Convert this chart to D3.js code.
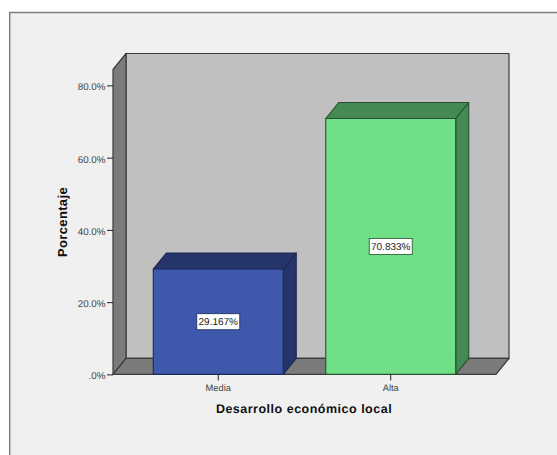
<!DOCTYPE html>
<html><head><meta charset="utf-8">
<script src="https://cdn.jsdelivr.net/npm/d3@7/dist/d3.min.js"></script>
<style>html,body{margin:0;padding:0;background:#fff}svg{display:block}text{font-family:"Liberation Sans",Arial,sans-serif;text-rendering:geometricPrecision}</style>
</head><body><svg id="c" width="557" height="455"></svg>
<script>
const categories = ["Media", "Alta"];
const values = [29.167, 70.833];
const valueLabels = ["29.167%", "70.833%"];
const yTicks = [0, 20, 40, 60, 80];
const xTitle = "Desarrollo económico local";
const yTitle = "Porcentaje";

const svg = d3.select("#c");
const dx = 13, dy = 16;
const y = d3.scaleLinear().domain([0, 80]).range([374.4, 85.4]);
const x = d3.scaleBand().domain(categories).range([113, 496]).paddingInner(0.2464).paddingOuter(0.2336);
const yTopFront = 69.5, x0 = 113, x1 = 496, y0 = y(0);
const line = "#3a3a3a";
const poly = (pts, fill, stroke, w) => svg.append("path")
  .attr("d", "M" + pts.map(p => p.join(",")).join("L") + "Z")
  .attr("fill", fill).attr("stroke", stroke).attr("stroke-width", w).attr("stroke-linejoin", "round");

svg.append("rect").attr("x", 9.7).attr("y", 12.5).attr("width", 590).attr("height", 480)
  .attr("fill", "#f0f0f0").attr("stroke", "#808080").attr("stroke-width", 1.5);

poly([[x0+dx,yTopFront-dy],[x1+dx,yTopFront-dy],[x1+dx,y0-dy],[x0+dx,y0-dy]], "#c0c0c0", line, 1.2);
poly([[x0,yTopFront],[x0+dx,yTopFront-dy],[x0+dx,y0-dy],[x0,y0]], "#7b7b7b", line, 1.2);
poly([[x0,y0],[x0+dx,y0-dy],[x1+dx,y0-dy],[x1,y0]], "#7b7b7b", line, 1.2);

const styles = [
  {front:"#3e58ac", top:"#253569", side:"#253569", stroke:"#1c2a55"},
  {front:"#70df85", top:"#458a54", side:"#458a54", stroke:"#274f30"}
];
categories.forEach((c, i) => {
  const l = x(c), r = l + x.bandwidth(), t = y(values[i]), s = styles[i];
  poly([[l,t],[l+dx,t-dy],[r+dx,t-dy],[r,t]], s.top, s.stroke, 1.1);
  poly([[r,t],[r+dx,t-dy],[r+dx,y0-dy],[r,y0]], s.side, s.stroke, 1.1);
  poly([[l,t],[r,t],[r,y0],[l,y0]], s.front, s.stroke, 1.1);
  const cx = l + x.bandwidth()/2, cy = (t + y0)/2;
  svg.append("rect").attr("x", cx-21.5).attr("y", cy-8).attr("width", 43).attr("height", 16)
    .attr("fill", "#fff").attr("stroke", s.stroke).attr("stroke-width", 0.8);
  svg.append("text").attr("x", cx).attr("y", cy+3.6).attr("text-anchor","middle")
    .attr("font-size", 10).attr("fill", "#222").text(valueLabels[i]);
});

const yAxis = d3.axisLeft(y).tickValues(yTicks).tickSize(6).tickPadding(1.5)
  .tickFormat(d => d === 0 ? ".0%" : d.toFixed(1) + "%");
const gy = svg.append("g").attr("transform", `translate(${x0},0)`).call(yAxis);
gy.select(".domain").remove();
gy.selectAll("line").attr("stroke", "#222").attr("stroke-width", 1);
gy.selectAll("text").attr("font-size", 9.8).attr("fill", "#444").attr("dy", "0.45em")
  .attr("font-family", '"Liberation Sans",Arial,sans-serif');

const xAxis = d3.axisBottom(x).tickSize(6).tickPadding(4.5);
const gx = svg.append("g").attr("transform", `translate(0,${y0})`).call(xAxis);
gx.select(".domain").remove();
gx.selectAll("line").attr("stroke", "#222").attr("stroke-width", 1);
gx.selectAll("text").attr("font-size", 9.3).attr("fill", "#444").attr("font-family", '"Liberation Sans",Arial,sans-serif');

svg.append("text").attr("x", 304).attr("y", 413).attr("text-anchor","middle")
  .attr("font-size", 12.5).attr("font-weight","bold").attr("letter-spacing", 0.5).attr("fill","#111").text(xTitle);
svg.append("text").attr("transform","translate(67,222) rotate(-90)").attr("text-anchor","middle")
  .attr("font-size", 13).attr("font-weight","bold").attr("letter-spacing", 0.35).attr("fill","#111").text(yTitle);
</script></body></html>
